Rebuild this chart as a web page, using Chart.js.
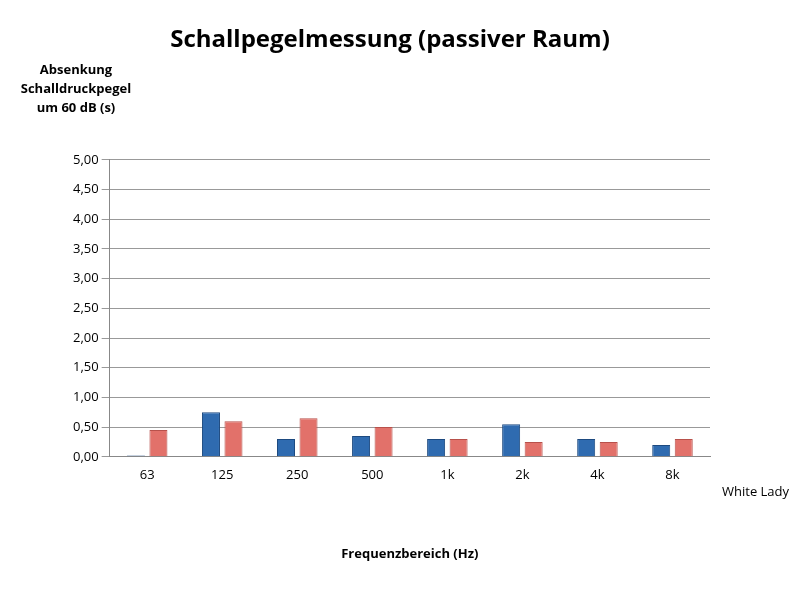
<!DOCTYPE html>
<html lang="de">
<head>
<meta charset="UTF-8">
<title>Schallpegelmessung</title>
<script src="https://cdn.jsdelivr.net/npm/chart.js"></script>
<style>
  body { margin: 0; background: #fff; }
  #wrap { width: 800px; height: 596px; }
</style>
</head>
<body>
<div id="wrap"><canvas id="myChart"></canvas></div>
<script>
var categories = ['63', '125', '250', '500', '1k', '2k', '4k', '8k'];
var whiteLady = [0.02, 0.75, 0.30, 0.35, 0.30, 0.55, 0.30, 0.20];
var secondSeries = [0.45, 0.60, 0.65, 0.50, 0.30, 0.25, 0.25, 0.30];
var yTicks = [0, 0.5, 1, 1.5, 2, 2.5, 3, 3.5, 4, 4.5, 5];

var sideLabels = {
    id: 'sideLabels',
    afterDraw: function(chart) {
        var c = chart.ctx;
        var area = chart.chartArea;
        c.save();
        c.fillStyle = '#000';
        c.font = 'bold 13px "Open Sans", sans-serif';
        c.textAlign = 'center';
        ['Absenkung', 'Schalldruckpegel', 'um 60 dB (s)'].forEach(function(t, i) {
            c.fillText(t, 76, 74 + i * 19);
        });
        c.font = '13px "Open Sans", sans-serif';
        c.textAlign = 'left';
        c.fillText('White Lady', area.right + 12, 496);
        c.restore();
    }
};

var ctx = document.getElementById('myChart').getContext('2d');
var myChart = new Chart(ctx, {
    type: 'bar',
    data: {
        labels: categories,
        datasets: [{
            label: 'White Lady',
            data: whiteLady,
            backgroundColor: '#2f6bb0',
            borderColor: '#1d4a80',
            borderWidth: 1
        }, {
            label: '',
            data: secondSeries,
            backgroundColor: '#e2716a',
            borderColor: '#b8514b',
            borderWidth: 1
        }]
    },
    plugins: [sideLabels],
    options: {
        responsive: true,
        maintainAspectRatio: false,
        animation: false,
        layout: { padding: { left: 70, right: 90, top: 12, bottom: 30 } },
        plugins: {
            legend: { display: false },
            title: {
                display: true,
                text: 'Schallpegelmessung (passiver Raum)',
                font: { size: 24, weight: 'bold', family: '"Open Sans", sans-serif' },
                color: '#000',
                padding: { top: 14, bottom: 105 }
            }
        },
        datasets: { bar: { categoryPercentage: 0.6, barPercentage: 0.8 } },
        scales: {
            x: {
                grid: { display: false },
                border: { color: '#888' },
                ticks: { color: '#000', font: { size: 13, family: '"Open Sans", sans-serif' } },
                title: {
                    display: true,
                    text: 'Frequenzbereich (Hz)',
                    color: '#000',
                    font: { size: 13, weight: 'bold', family: '"Open Sans", sans-serif' },
                    padding: { top: 60 }
                }
            },
            y: {
                min: 0,
                max: 5,
                afterBuildTicks: function(axis) {
                    axis.ticks = yTicks.map(function(v) { return { value: v }; });
                },
                grid: { color: '#999' },
                border: { color: '#888' },
                ticks: {
                    color: '#000',
                    font: { size: 13, family: '"Open Sans", sans-serif' },
                    callback: function(v) { return v.toFixed(2).replace('.', ','); }
                }
            }
        }
    }
});
</script>
</body>
</html>
